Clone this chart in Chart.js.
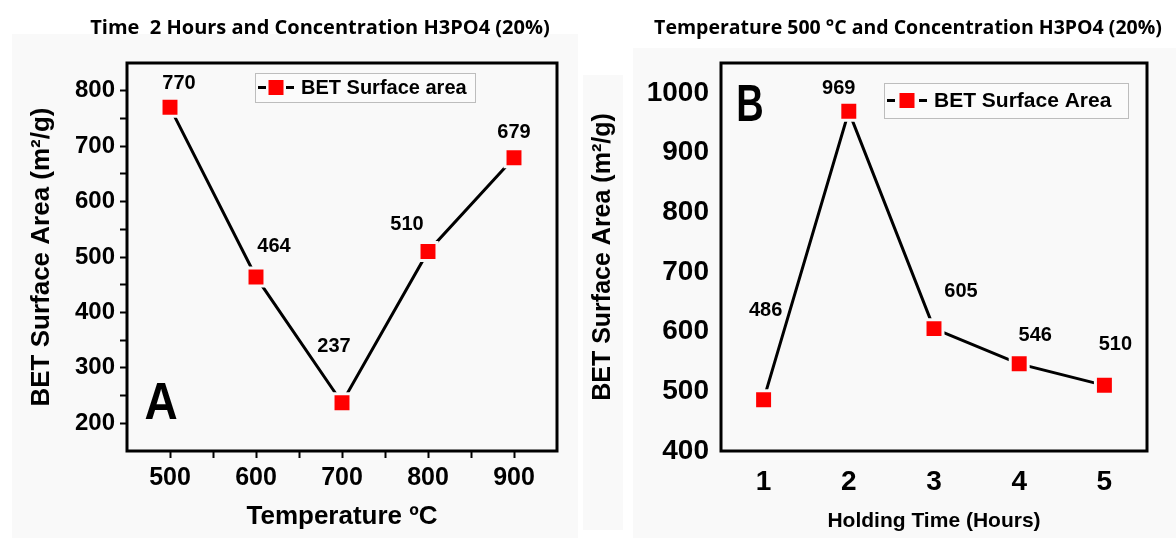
<!DOCTYPE html>
<html>
<head>
<meta charset="utf-8">
<script src="https://cdn.jsdelivr.net/npm/chart.js@4.4.1/dist/chart.umd.min.js"></script>
<style>
  body { margin: 0; width: 1176px; height: 538px; background: #fff; position: relative; overflow: hidden; }
  .bg { position: absolute; background: #f9f9f9; }
  canvas { position: absolute; top: 0; }
</style>
</head>
<body>
<div class="bg" style="left:12px;top:34px;width:566px;height:504px"></div>
<div class="bg" style="left:583px;top:75px;width:40px;height:455px"></div>
<div class="bg" style="left:633px;top:48px;width:543px;height:490px"></div>
<canvas id="chartA" width="585" height="538" style="left:0"></canvas>
<canvas id="chartB" width="591" height="538" style="left:585px"></canvas>
<script>
// panel A: activation temperature (2 h, 20% H3PO4)
const tempValues = [500, 600, 700, 800, 900];
const tempSurface = [770, 464, 237, 510, 679];
const tempTicks = [500, 600, 700, 800, 900];
const tempAreaTicks = [200, 300, 400, 500, 600, 700, 800];

// panel B: holding time (500 °C, 20% H3PO4)
const timeValues = [1, 2, 3, 4, 5];
const timeSurface = [486, 969, 605, 546, 510];
const timeTicks = [1, 2, 3, 4, 5];
const timeAreaTicks = [400, 500, 600, 700, 800, 900, 1000];

const bold = 'Liberation Sans';

// label nudges in px relative to each marker
const offsetsA = [[9, -24], [18, -30], [-8, -56], [-21, -27], [0, -25]];
const offsetsB = [[2, -89], [-10, -23], [27, -37], [16, -28], [11, -41]];

const decor = {
    id: 'decor',
    afterDraw(chart, args, o) {
        const ctx = chart.ctx;
        const a = chart.chartArea;
        ctx.save();
        // frame
        ctx.strokeStyle = '#000';
        ctx.lineWidth = 3;
        ctx.strokeRect(a.left, a.top, a.right - a.left, a.bottom - a.top);

        // title
        ctx.fillStyle = '#000';
        ctx.textAlign = 'center';
        ctx.textBaseline = 'middle';
        ctx.font = o.titleFont;
        ctx.fillText(o.title, o.titleX, o.titleY);

        // panel letter
        ctx.save();
        ctx.translate(o.letterX, o.letterY);
        ctx.scale(1, o.letterScale);
        ctx.font = o.letterFont;
        ctx.fillText(o.letter, 0, 0);
        ctx.restore();

        // value labels
        const meta = chart.getDatasetMeta(0);
        const values = chart.data.datasets[0].data;
        ctx.font = o.valueFont;
        meta.data.forEach((pt, i) => {
            ctx.fillText(String(values[i].y), pt.x + o.offsets[i][0], pt.y + o.offsets[i][1]);
        });

        // legend
        const L = o.legend;
        ctx.fillStyle = '#fbfbfb';
        ctx.fillRect(L.x, L.y, L.w, L.h);
        ctx.strokeStyle = '#bdbdbd';
        ctx.lineWidth = 1;
        ctx.strokeRect(L.x + 0.5, L.y + 0.5, L.w, L.h);
        const cy = L.y + L.h / 2;
        ctx.strokeStyle = '#000';
        ctx.lineWidth = 3;
        ctx.beginPath();
        ctx.moveTo(L.x + 3, cy); ctx.lineTo(L.x + 11, cy);
        ctx.moveTo(L.x + L.sym - 11, cy); ctx.lineTo(L.x + L.sym - 3, cy);
        ctx.stroke();
        ctx.fillStyle = '#ff0000';
        ctx.fillRect(L.x + L.sym / 2 - 7.5, cy - 7.5, 15, 15);
        ctx.fillStyle = '#000';
        ctx.textAlign = 'left';
        ctx.font = L.font;
        ctx.fillText(chart.data.datasets[0].label, L.x + L.sym + 4, cy + 1);
        ctx.restore();
    }
};

function withMinor(major) {
    const out = [];
    major.forEach((v, i) => {
        out.push(v);
        if (i < major.length - 1) out.push((v + major[i + 1]) / 2);
    });
    return out;
}

function makePanel(id, cfg) {
    const minorX = cfg.xMinor ? withMinor(cfg.xTicks) : cfg.xTicks;
    const minorY = cfg.yMinor ? withMinor(cfg.yTicks) : cfg.yTicks;
    return new Chart(document.getElementById(id), {
        type: 'line',
        data: {
            datasets: [{
                label: cfg.label,
                data: cfg.x.map((v, i) => ({ x: v, y: cfg.y[i] })),
                borderColor: '#000',
                borderWidth: 3,
                tension: 0,
                pointStyle: 'rect',
                pointRadius: 12.7,
                pointHoverRadius: 12.7,
                pointBackgroundColor: '#ff0000',
                pointBorderColor: '#f9f9f9',
                pointBorderWidth: 3,
                clip: false
            }]
        },
        options: {
            responsive: false,
            animation: false,
            layout: { padding: { top: cfg.top, right: cfg.right, left: 0, bottom: 0 } },
            plugins: {
                legend: { display: false },
                tooltip: { enabled: false },
                decor: cfg.decor
            },
            scales: {
                x: {
                    type: 'linear',
                    min: cfg.xMin, max: cfg.xMax,
                    afterBuildTicks: s => { s.ticks = minorX.map(v => ({ value: v })); },
                    afterFit: s => { s.height = cfg.xHeight; },
                    border: { display: false },
                    grid: {
                        drawOnChartArea: false,
                        drawTicks: cfg.drawTicks,
                        tickLength: 7,
                        tickWidth: 2,
                        tickColor: '#000'
                    },
                    ticks: {
                        color: '#000',
                        padding: cfg.xPad,
                        maxRotation: 0,
                        autoSkip: false,
                        font: { family: bold, weight: 'bold', size: cfg.xTickSize },
                        callback: v => cfg.xTicks.includes(v) ? String(v) : ''
                    },
                    title: {
                        display: true,
                        text: cfg.xTitle,
                        color: '#000',
                        font: { family: bold, weight: 'bold', size: cfg.xTitleSize },
                        padding: { top: 0, bottom: cfg.xTitlePad }
                    }
                },
                y: {
                    min: cfg.yMin, max: cfg.yMax,
                    afterBuildTicks: s => { s.ticks = minorY.map(v => ({ value: v })); },
                    afterFit: s => { s.width = cfg.yWidth; },
                    border: { display: false },
                    grid: {
                        drawOnChartArea: false,
                        drawTicks: cfg.drawTicks,
                        tickLength: 7,
                        tickWidth: 2,
                        tickColor: '#000'
                    },
                    ticks: {
                        color: '#000',
                        padding: cfg.yPad,
                        autoSkip: false,
                        font: { family: bold, weight: 'bold', size: cfg.yTickSize },
                        callback: v => cfg.yTicks.includes(v) ? String(v) : ''
                    },
                    title: {
                        display: true,
                        text: 'BET Surface Area (m\u00b2/g)',
                        color: '#000',
                        font: { family: bold, weight: 'bold', size: cfg.yTitleSize },
                        padding: { top: cfg.yTitlePad, bottom: 0 }
                    }
                }
            }
        },
        plugins: [decor]
    });
}

makePanel('chartA', {
    label: 'BET Surface area',
    x: tempValues, y: tempSurface,
    xTicks: tempTicks, yTicks: tempAreaTicks, xMinor: true, yMinor: true,
    xMin: 450, xMax: 950, yMin: 150, yMax: 850,
    top: 63, right: 28, yWidth: 127, xHeight: 87,
    drawTicks: true, xPad: 5, yPad: 5,
    xTickSize: 25, yTickSize: 24,
    xTitle: 'Temperature \u00baC', xTitleSize: 26, xTitlePad: 6,
    yTitleSize: 26, yTitlePad: 26,
    decor: {
        title: 'Time  2 Hours and Concentration H3PO4 (20%)',
        titleFont: 'bold 20px "Open Sans"', titleX: 320, titleY: 28,
        letter: 'A', letterFont: 'bold 46px "Liberation Sans"', letterX: 161, letterY: 405, letterScale: 1.12,
        valueFont: 'bold 20px "Liberation Sans"',
        offsets: offsetsA,
        legend: { x: 255, y: 73, w: 220, h: 29, sym: 42, font: 'bold 20px "Liberation Sans"' }
    }
});

makePanel('chartB', {
    label: 'BET Surface Area',
    x: timeValues, y: timeSurface,
    xTicks: timeTicks, yTicks: timeAreaTicks, xMinor: false, yMinor: false,
    xMin: 0.5, xMax: 5.5, yMin: 400, yMax: 1050,
    top: 63, right: 29, yWidth: 136, xHeight: 87,
    drawTicks: false, xPad: 14, yPad: 12,
    xTickSize: 28, yTickSize: 28,
    xTitle: 'Holding Time (Hours)', xTitleSize: 21, xTitlePad: 4,
    yTitleSize: 25, yTitlePad: 3,
    decor: {
        title: 'Temperature 500 \u00b0C and Concentration H3PO4 (20%)',
        titleFont: 'bold 19.5px "Open Sans"', titleX: 323, titleY: 28,
        letter: 'B', letterFont: 'bold 38px "Liberation Sans"', letterX: 165, letterY: 107, letterScale: 1.38,
        valueFont: 'bold 20px "Liberation Sans"',
        offsets: offsetsB,
        legend: { x: 299, y: 83, w: 244, h: 35, sym: 46, font: 'bold 21px "Liberation Sans"' }
    }
});
</script>
</body>
</html>
